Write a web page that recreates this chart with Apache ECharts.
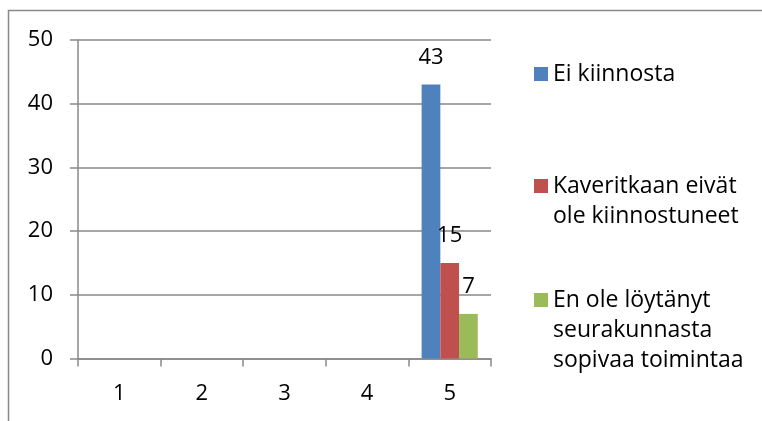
<!DOCTYPE html>
<html>
<head>
<meta charset="utf-8">
<script src="https://cdn.jsdelivr.net/npm/echarts@6/dist/echarts.min.js"></script>
<style>
html, body { margin: 0; padding: 0; background: #fff; }
#chart01 { width: 762px; height: 421px; }
</style>
</head>
<body>
<div id="chart01"></div>
<script>
var categories = ['1', '2', '3', '4', '5'];
var eiKiinnosta = [null, null, null, null, 43];
var kaverit = [null, null, null, null, 15];
var eiLoytanyt = [null, null, null, null, 7];
var seriesNames = ['Ei kiinnosta', 'Kaveritkaan eivät ole kiinnostuneet', 'En ole löytänyt seurakunnasta sopivaa toimintaa'];
var legendLines = [
    ['Ei kiinnosta'],
    ['Kaveritkaan eivät', 'ole kiinnostuneet'],
    ['En ole löytänyt', 'seurakunnasta', 'sopivaa toimintaa']
];
var colors = ['#4F81BD', '#C0504D', '#9BBB59'];
var legendTops = [59, 141, 225];

var myChart = echarts.init(document.getElementById('chart01'));
var font = 'Open Sans';
var gray = '#898989';

function makeLegend(i) {
    var lines = legendLines[i];
    // empty lines on top so the first text line sits level with the square
    var pad = new Array(lines.length).join('\n');
    return {
        left: 534,
        top: legendTops[i],
        padding: 0,
        itemWidth: 14,
        itemHeight: 14,
        icon: 'rect',
        data: [seriesNames[i]],
        formatter: function () { return pad + lines.join('\n'); },
        textStyle: {
            fontFamily: font,
            fontSize: 23,
            lineHeight: 30,
            color: '#000'
        },
        selectedMode: false
    };
}

function makeBar(i, values) {
    return {
        name: seriesNames[i],
        type: 'bar',
        data: values,
        barGap: 0,
        barCategoryGap: '32%',
        itemStyle: { color: colors[i] },
        label: {
            show: true,
            position: 'top',
            distance: 16,
            fontFamily: font,
            fontSize: 22,
            color: '#000'
        }
    };
}

option = {
    animation: false,
    backgroundColor: '#fff',
    color: colors,
    grid: {
        left: 78,
        right: 271,
        top: 40,
        bottom: 62.5
    },
    legend: [makeLegend(0), makeLegend(1), makeLegend(2)],
    xAxis: {
        type: 'category',
        data: categories,
        axisLine: { lineStyle: { color: gray, width: 1.5 } },
        axisTick: { show: true, length: 8, lineStyle: { color: gray, width: 1.5 } },
        axisLabel: { margin: 24, fontFamily: font, fontSize: 22, color: '#000' }
    },
    yAxis: {
        type: 'value',
        min: 0,
        max: 50,
        interval: 10,
        axisLine: { show: true, lineStyle: { color: gray, width: 1.5 } },
        axisTick: { show: true, length: 8, lineStyle: { color: gray, width: 1.5 } },
        splitLine: { lineStyle: { color: gray, width: 1.5 } },
        axisLabel: { margin: 25, fontFamily: font, fontSize: 22, color: '#000' }
    },
    graphic: [{
        type: 'rect',
        shape: { x: 8.5, y: 10.5, width: 800, height: 500 },
        style: { fill: 'none', stroke: gray, lineWidth: 1.5 },
        silent: true,
        z: -1
    }],
    series: [
        makeBar(0, eiKiinnosta),
        makeBar(1, kaverit),
        makeBar(2, eiLoytanyt)
    ]
};
if (option && typeof option === "object") {
    myChart.setOption(option, true);
}
</script>
</body>
</html>
